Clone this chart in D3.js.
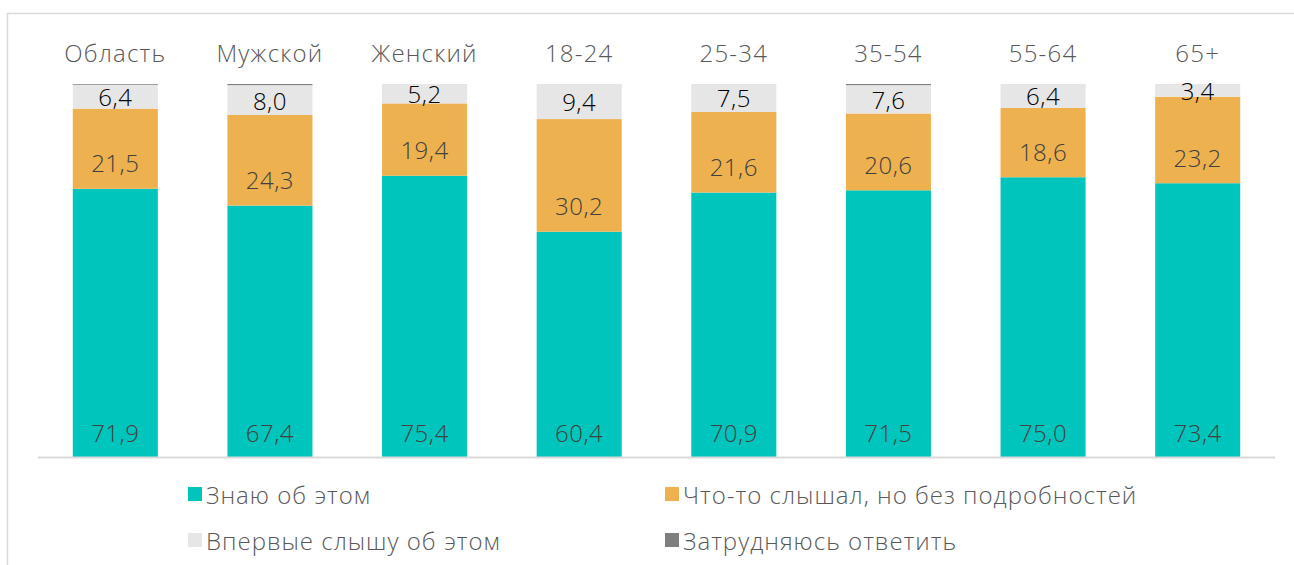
<!DOCTYPE html>
<html>
<head>
<meta charset="utf-8">
<script src="https://cdn.jsdelivr.net/npm/d3@7"></script>
<style>
  body { margin: 0; background: #fff; }
  text { font-family: "Open Sans", "Noto Sans", sans-serif; font-weight: 300; }
</style>
</head>
<body>
<div id="chart"></div>
<script>
// данные
const categories = ["Область", "Мужской", "Женский", "18-24", "25-34", "35-54", "55-64", "65+"];
const seriesNames = ["Знаю об этом", "Что-то слышал, но без подробностей", "Впервые слышу об этом", "Затрудняюсь ответить"];
const know = [71.9, 67.4, 75.4, 60.4, 70.9, 71.5, 75.0, 73.4];
const heard = [21.5, 24.3, 19.4, 30.2, 21.6, 20.6, 18.6, 23.2];
const firstTime = [6.4, 8.0, 5.2, 9.4, 7.5, 7.6, 6.4, 3.4];
const hard = [0.2, 0.3, 0, 0, 0, 0.3, 0, 0];

const colors = ["#00c5bc", "#eeb14f", "#e6e6e6", "#7f7f7f"];
const keys = ["know", "heard", "firstTime", "hard"];

const width = 1294, height = 565;

const table = categories.map((c, i) => ({
    cat: c, know: know[i], heard: heard[i], firstTime: firstTime[i], hard: hard[i]
}));

const svg = d3.select("#chart")
    .append("svg")
    .attr("width", width)
    .attr("height", height);

// рамка
svg.append("rect")
    .attr("x", 7.5).attr("y", 13.5)
    .attr("width", width + 20).attr("height", height + 20)
    .attr("fill", "none")
    .attr("stroke", "#d9d9d9")
    .attr("stroke-width", 1.5);

const x = d3.scaleBand()
    .domain(categories)
    .range([38, 1275])
    .paddingInner(0.45)
    .paddingOuter(0.225);

const y = d3.scaleLinear()
    .domain([0, 100])
    .range([457, 84]);

const stack = d3.stack().keys(keys);
const layers = stack(table);

const fmt = v => d3.format(".1f")(v).replace(".", ",");

const g = svg.selectAll(".layer")
    .data(layers)
    .enter()
    .append("g")
    .attr("class", "layer")
    .attr("fill", (d, i) => colors[i]);

g.selectAll("rect")
    .data(d => d)
    .enter()
    .append("rect")
    .attr("x", d => x(d.data.cat))
    .attr("width", x.bandwidth())
    .attr("y", d => y(d[1]))
    .attr("height", d => y(d[0]) - y(d[1]));

// ось
svg.append("line")
    .attr("x1", 38).attr("x2", 1275)
    .attr("y1", 457.5).attr("y2", 457.5)
    .attr("stroke", "#d9d9d9")
    .attr("stroke-width", 2);

// подписи значений (у основания сегмента, серые по центру)
const labelOffset = [25, 26];
layers.slice(0, 3).forEach((layer, li) => {
    svg.append("g").selectAll("text")
        .data(layer)
        .enter()
        .append("text")
        .attr("x", d => x(d.data.cat) + x.bandwidth() / 2)
        .attr("y", d => li < 2 ? y(d[0]) - labelOffset[li] : (y(d[0]) + y(d[1])) / 2)
        .attr("text-anchor", "middle")
        .attr("dominant-baseline", "central")
        .attr("font-size", 24)
        .attr("letter-spacing", 0.5)
        .attr("fill", li == 2 ? "#000" : "#404040")
        .text(d => fmt(d[1] - d[0]));
});

// категории сверху
svg.append("g").selectAll("text")
    .data(categories)
    .enter()
    .append("text")
    .attr("x", d => x(d) + x.bandwidth() / 2)
    .attr("y", 52)
    .attr("text-anchor", "middle")
    .attr("dominant-baseline", "central")
    .attr("font-size", 24)
    .attr("letter-spacing", 1.2)
    .attr("fill", "#595959")
    .text(d => d);

// легенда
const legendPos = [[188, 494], [665, 494], [188, 540], [665, 540]];
const lg = svg.append("g").selectAll("g")
    .data(seriesNames)
    .enter()
    .append("g")
    .attr("transform", (d, i) => "translate(" + legendPos[i][0] + "," + legendPos[i][1] + ")");

lg.append("rect")
    .attr("x", 0).attr("y", -7)
    .attr("width", 14).attr("height", 14)
    .attr("fill", (d, i) => colors[i]);

lg.append("text")
    .attr("x", 18)
    .attr("y", 0)
    .attr("dominant-baseline", "central")
    .attr("font-size", 24)
    .attr("letter-spacing", 1)
    .attr("fill", "#595959")
    .text(d => d);
</script>
</body>
</html>
